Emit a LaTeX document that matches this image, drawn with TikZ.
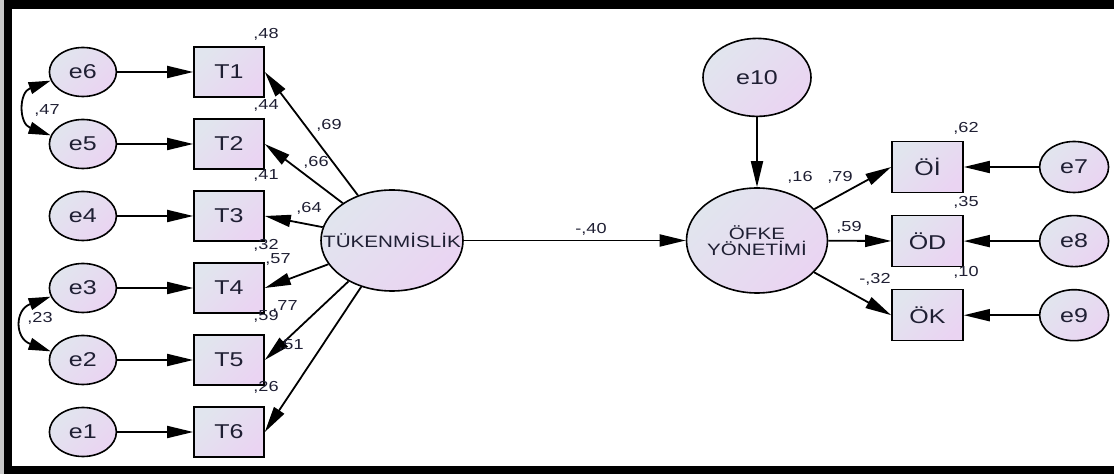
\documentclass[tikz,border=0pt]{standalone}
\usepackage{fontspec}
\setmainfont{Liberation Sans}[FakeStretch=1.25]
\usepackage{tikz}
\usetikzlibrary{arrows.meta,positioning,shapes.geometric}
\usepackage{xcolor}
\definecolor{semink}{HTML}{1F1F33}
\definecolor{semtop}{HTML}{E1E5EE}
\definecolor{sembottom}{HTML}{EAD4F2}
\definecolor{semedge}{HTML}{C8C8C8}
\tikzset{
  semerr/.style={
    ellipse,
    draw=black,
    line width=1.6pt,
    top color=semtop,
    bottom color=sembottom,
    shading angle=45,
    inner sep=0pt,
    minimum width=67pt,
    minimum height=49pt,
    text=semink,
    font=\fontsize{20}{20}\selectfont
  },
  semlatent/.style={semerr, minimum width=142pt, minimum height=101pt, font=\fontsize{16.5}{16.5}\selectfont},
  semobs/.style={semerr, rectangle, minimum width=70pt, minimum height=50pt},
  semobswide/.style={semobs, minimum width=71pt, minimum height=51pt},
  semnum/.style={inner sep=0pt, text=semink, font=\fontsize{14.5}{14.5}\selectfont},
  sempath/.style={-{Triangle[length=26pt,width=12pt]}, line width=1.8pt},
  semcov/.style={{Triangle[length=22pt,width=12pt]}-{Triangle[length=22pt,width=12pt]}, line width=1.8pt}
}

\begin{document}
\begin{tikzpicture}[x=1pt,y=1pt]
\useasboundingbox (0,0) rectangle (1114,474);
\fill[semedge] (0,0) rectangle (4,474);
\fill[black] (4,0) rectangle (1114,474);
\fill[white] (12,8) rectangle (1114,465);
% left block
\node[semobs] (t1) at (229,402) {T1};
\node[semobs, below=20.4pt of t1] (t2) {T2};
\node[semobs, below=20.4pt of t2] (t3) {T3};
\node[semobs, below=20.4pt of t3] (t4) {T4};
\node[semobs, below=20.4pt of t4] (t5) {T5};
\node[semobs, below=20.4pt of t5] (t6) {T6};
\node[semerr, left=76pt of t1] (e6) {e6};
\node[semerr, left=76pt of t2] (e5) {e5};
\node[semerr, left=76pt of t3] (e4) {e4};
\node[semerr, left=76pt of t4] (e3) {e3};
\node[semerr, left=76pt of t5] (e2) {e2};
\node[semerr, left=76pt of t6] (e1) {e1};
\node[semlatent] (tuk) at (392,233.5) {\makebox[0pt]{TÜKENMİSLİK}};
% right block
\node[semlatent, minimum width=141pt, minimum height=105pt, align=center, font=\fontsize{16.5}{16}\selectfont] (ofke) at (757,233.5) {ÖFKE\\YÖNETİMİ};
\node[semerr, minimum width=108pt, minimum height=78pt, above=70pt of ofke] (e10) {e10};
\node[semobswide] (oi) at (927.5,307) {Öİ};
\node[semobswide, below=21.5pt of oi] (od) {ÖD};
\node[semobswide, below=21.5pt of od] (ok) {ÖK};
\node[semerr, minimum width=69pt, minimum height=51pt, right=75pt of oi] (e7) {e7};
\node[semerr, minimum width=69pt, minimum height=51pt, right=75pt of od] (e8) {e8};
\node[semerr, minimum width=69pt, minimum height=51pt, right=75pt of ok] (e9) {e9};
% paths
\draw[sempath] (e6) -- (t1);
\draw[sempath] (e5) -- (t2);
\draw[sempath] (e4) -- (t3);
\draw[sempath] (e3) -- (t4);
\draw[sempath] (e2) -- (t5);
\draw[sempath] (e1) -- (t6);
\draw[sempath] (tuk) -- (t1.east);
\draw[sempath] (tuk) -- (t2.east);
\draw[sempath] (tuk) -- (t3.east);
\draw[sempath] (tuk) -- (t4.east);
\draw[sempath] (tuk) -- (t5.east);
\draw[sempath] (tuk) -- (t6.east);
\draw[semcov] (e6.195) to[out=200,in=160,looseness=1.6] (e5.165);
\draw[semcov] (e3.195) to[out=200,in=160,looseness=1.8] (e2.165);
\draw[sempath] (tuk) -- (ofke);
\draw[sempath] (e10) -- (ofke);
\draw[sempath] (ofke) -- (oi.west);
\draw[sempath] (ofke) -- (od);
\draw[sempath] (ofke) -- (ok.west);
\draw[sempath] (e7) -- (oi);
\draw[sempath] (e8) -- (od);
\draw[sempath] (e9) -- (ok);
% estimates
\node[semnum] (r1) at (266,440) {,48};
\node[semnum] (r2) at (266,369) {,44};
\node[semnum] (r3) at (266,299) {,41};
\node[semnum] (r4) at (266,229) {,32};
\node[semnum] (r5) at (266,158) {,59};
\node[semnum] (r6) at (266,87) {,26};
\node[semnum] (l1) at (329,349) {,69};
\node[semnum] (l2) at (316,312) {,66};
\node[semnum] (l3) at (309,266) {,64};
\node[semnum] (l4) at (278,215) {,57};
\node[semnum] (l5) at (285,168) {,77};
\node[semnum] (l6) at (291,129) {,51};
\node[semnum] (c1) at (47,364) {,47};
\node[semnum] (c2) at (40,156) {,23};
\node[semnum] (b1) at (591,245) {-,40};
\node[semnum] (r7) at (800,297) {,16};
\node[semnum] (l7) at (840,297) {,79};
\node[semnum] (l8) at (849,247) {,59};
\node[semnum] (l9) at (875,195) {-,32};
\node[semnum] (r8) at (966,346) {,62};
\node[semnum] (r9) at (966,272) {,35};
\node[semnum] (r10) at (966,202) {,10};
\end{tikzpicture}
\end{document}
